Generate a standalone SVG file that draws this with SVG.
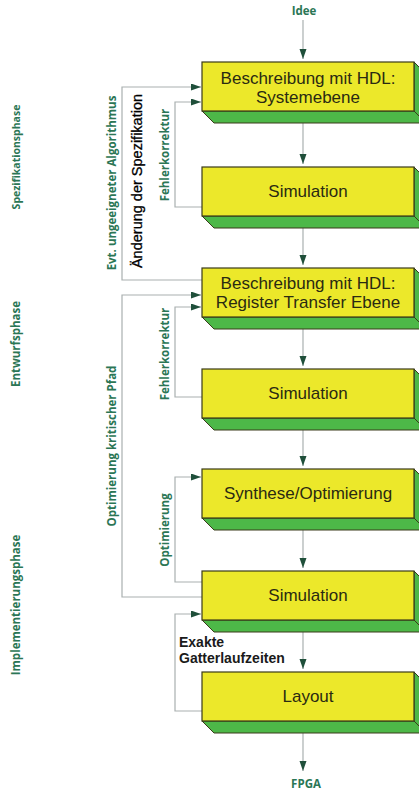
<svg xmlns="http://www.w3.org/2000/svg" xmlns:xlink="http://www.w3.org/1999/xlink" width="419" height="793" viewBox="0 0 419 793">
<defs>
<style>
.face{fill:#ece82a;stroke:#3a3a1a;stroke-width:1.2}
.side{fill:#4db848;stroke:#3a3a1a;stroke-width:1}
.bt{font-family:"Liberation Sans",Arial,sans-serif;font-size:17px;fill:#2a2a12;text-anchor:middle}
.gt{font-family:"Open Sans","DejaVu Sans",sans-serif;font-weight:bold;font-size:11.5px;fill:#2b7655;text-anchor:middle}
.kt{font-family:"Liberation Sans",Arial,sans-serif;font-size:14.5px;fill:#000;stroke:#000;stroke-width:0.3;text-anchor:middle}
.xt{font-family:"Liberation Sans",Arial,sans-serif;font-weight:bold;font-size:14px;fill:#1a1a1a}
.ln{fill:none;stroke:#a9b0b0;stroke-width:1.2}
</style>
<marker id="ah" markerUnits="userSpaceOnUse" markerWidth="11" markerHeight="8" refX="10" refY="3.5" orient="auto">
<path d="M0,0 L10,3.5 L0,7 z" fill="#1f4f3a"/>
</marker>
<g id="box">
<polygon class="side" points="202,49 414,49 426,61 214,61"/>
<polygon class="side" points="414,0 426,12 426,61 414,49"/>
<rect class="face" x="202" y="0" width="212" height="49"/>
</g>
</defs>
<rect width="419" height="793" fill="#ffffff"/>

<g id="connectors">
<path class="ln" d="M303,20 V59" marker-end="url(#ah)"/>
<path class="ln" d="M303,123 V164" marker-end="url(#ah)"/>
<path class="ln" d="M303,228 V265" marker-end="url(#ah)"/>
<path class="ln" d="M303,329 V366" marker-end="url(#ah)"/>
<path class="ln" d="M303,430 V466" marker-end="url(#ah)"/>
<path class="ln" d="M303,530 V568" marker-end="url(#ah)"/>
<path class="ln" d="M303,632 V669" marker-end="url(#ah)"/>
<path class="ln" d="M303,733 V771" marker-end="url(#ah)"/>
<path class="ln" d="M202,280 H122 V87 H201" marker-end="url(#ah)"/>
<path class="ln" d="M202,207 H175 V102 H201" marker-end="url(#ah)"/>
<path class="ln" d="M202,597 H122 V295 H201" marker-end="url(#ah)"/>
<path class="ln" d="M202,397 H175 V307 H201" marker-end="url(#ah)"/>
<path class="ln" d="M202,582 H175 V477 H201" marker-end="url(#ah)"/>
<path class="ln" d="M202,711 H175 V614 H201" marker-end="url(#ah)"/>
</g>

<g id="idee"><text class="gt" x="304" y="15">Idee</text></g>
<g id="fpga"><text class="gt" x="306" y="788">FPGA</text></g>

<g id="n1"><use xlink:href="#box" y="62"/>
<text class="bt" x="308" y="84">Beschreibung mit HDL:</text>
<text class="bt" x="308" y="103">Systemebene</text></g>
<g id="n2"><use xlink:href="#box" y="167"/>
<text class="bt" x="308" y="197">Simulation</text></g>
<g id="n3"><use xlink:href="#box" y="268"/>
<text class="bt" x="308" y="289">Beschreibung mit HDL:</text>
<text class="bt" x="308" y="308">Register Transfer Ebene</text></g>
<g id="n4"><use xlink:href="#box" y="369"/>
<text class="bt" x="308" y="399">Simulation</text></g>
<g id="n5"><use xlink:href="#box" y="469"/>
<text class="bt" x="308" y="499">Synthese/Optimierung</text></g>
<g id="n6"><use xlink:href="#box" y="571"/>
<text class="bt" x="308" y="601">Simulation</text></g>
<g id="n7"><use xlink:href="#box" y="672"/>
<text class="bt" x="308" y="702">Layout</text></g>

<g id="labels">
<text class="gt" style="font-size:10.5px" transform="translate(20,157) rotate(-90)">Spezifikationsphase</text>
<text class="gt" transform="translate(20,344) rotate(-90)">Entwurfsphase</text>
<text class="gt" transform="translate(20,605) rotate(-90)">Implementierungsphase</text>
<text class="gt" transform="translate(116,183) rotate(-90)">Evt. ungeeigneter Algorithmus</text>
<text class="kt" transform="translate(142,181) rotate(-90)">Änderung der Spezifikation</text>
<text class="gt" transform="translate(169,155) rotate(-90)">Fehlerkorrektur</text>
<text class="gt" transform="translate(116,446) rotate(-90)">Optimierung kritischer Pfad</text>
<text class="gt" transform="translate(169,354) rotate(-90)">Fehlerkorrektur</text>
<text class="gt" transform="translate(169,530) rotate(-90)">Optimierung</text>
<text class="xt" x="179" y="647">Exakte</text>
<text class="xt" x="179" y="663">Gatterlaufzeiten</text>
</g>
</svg>
